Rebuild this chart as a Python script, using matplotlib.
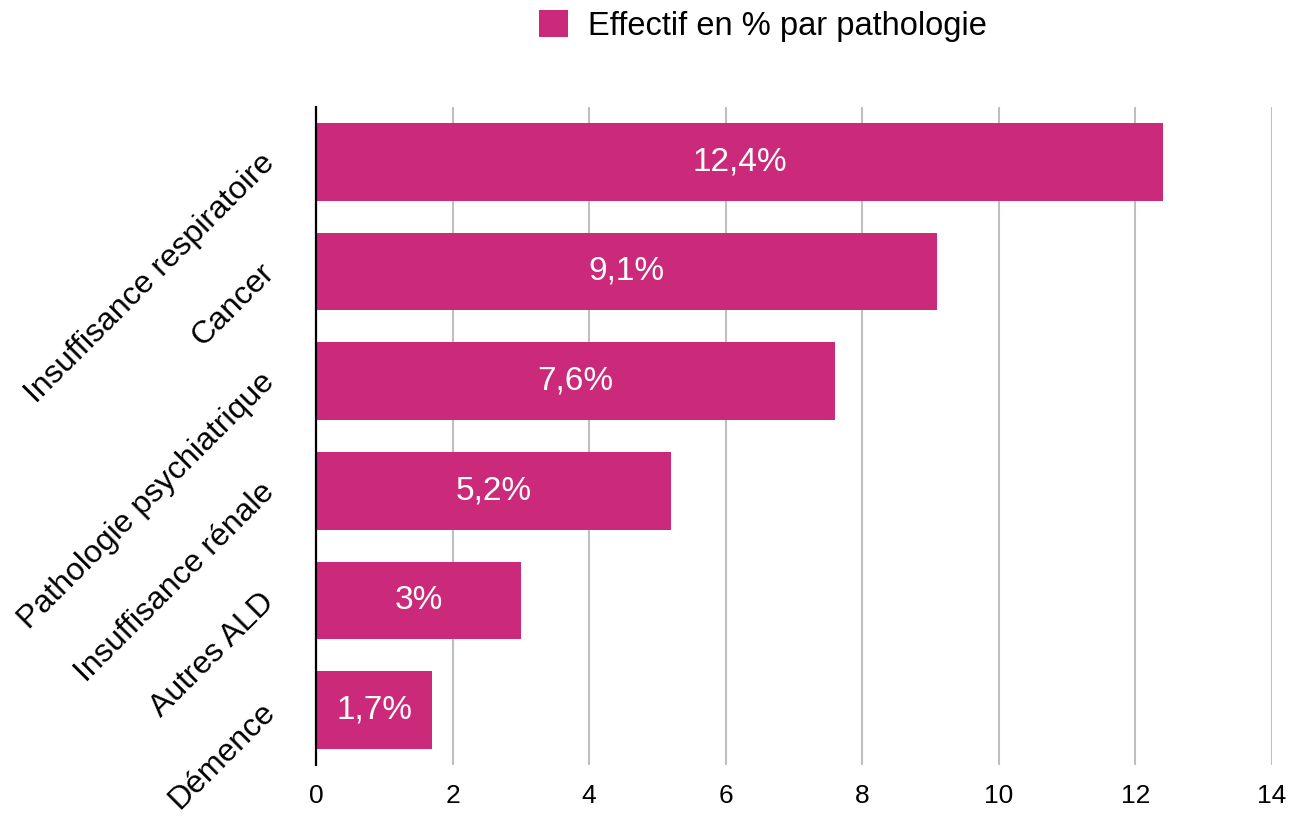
import matplotlib
matplotlib.use("Agg")
import matplotlib.pyplot as plt
import matplotlib.transforms as mtransforms

categories = ["Insuffisance respiratoire", "Cancer", "Pathologie psychiatrique",
              "Insuffisance rénale", "Autres ALD", "Démence"]
values = [12.4, 9.1, 7.6, 5.2, 3, 1.7]
value_labels = ["12,4%", "9,1%", "7,6%", "5,2%", "3%", "1,7%"]
xticks = [0, 2, 4, 6, 8, 10, 12, 14]
series_name = "Effectif en % par pathologie"
color = "#CB2A7B"

plt.rcParams['font.family'] = ['Liberation Sans', 'DejaVu Sans']

fig = plt.figure(figsize=(13, 8.16), dpi=100)
ax = fig.add_axes([316/1300, 1 - 765/816, (1272-316)/1300, (765-107)/816])

ypos = list(range(len(categories)))
bars = ax.barh(ypos, values, height=0.71, color=color, label=series_name, zorder=3)
for y, v, lab in zip(ypos, values, value_labels):
    ax.text(v / 2, y, lab, ha="center", va="center", color="white", fontsize=24, zorder=4)

ax.set_ylim(len(categories) - 0.5, -0.5)
ax.set_xlim(0, 14)
ax.set_xticks(xticks)
ax.set_xticklabels([str(t) for t in xticks], fontsize=19)
ax.set_yticks(ypos)
ax.set_yticklabels(categories, fontsize=23, rotation=45, ha="right", va="center",
                   rotation_mode="anchor")
ax.tick_params(axis="x", length=0, pad=14)
ax.tick_params(axis="y", length=0, pad=28)
offset = mtransforms.ScaledTranslation(-7/100, 3/100, fig.dpi_scale_trans)
for lbl in ax.get_yticklabels():
    lbl.set_transform(lbl.get_transform() + offset)

ax.grid(axis="x", color="#BFBFBF", linewidth=1.5, zorder=0)
ax.set_axisbelow(True)
for s in ["top", "right", "bottom"]:
    ax.spines[s].set_visible(False)
ax.spines["left"].set_color("black")
ax.spines["left"].set_linewidth(1.6)
ax.spines["left"].set_zorder(5)

leg = fig.legend(handles=[bars], labels=[series_name], loc="center",
                 bbox_to_anchor=(763/1300, 1 - 26/816), frameon=False, fontsize=23.5,
                 handlelength=0.9, handleheight=0.9, handletextpad=0.62)

fig.savefig("out.png", dpi=100)
